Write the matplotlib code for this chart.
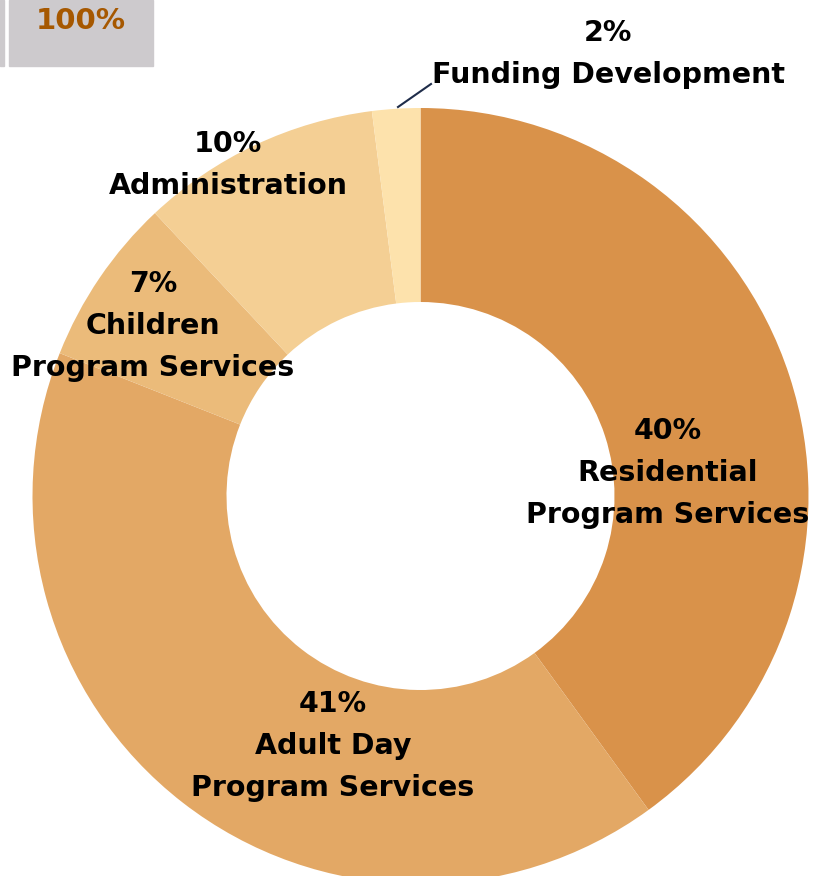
import matplotlib
matplotlib.use("Agg")
import matplotlib.pyplot as plt
from matplotlib.patches import Rectangle

# Données
categories = ["Residential\nProgram Services", "Adult Day\nProgram Services",
              "Children\nProgram Services", "Administration", "Funding Development"]
values = [40, 41, 7, 10, 2]
colors = ["#d9924a", "#e3a865", "#ebbb7a", "#f4cf94", "#fde2ac"]
total_label = "100%"

W, H = 813, 876
fig = plt.figure(figsize=(W / 100, H / 100), dpi=100)
ax = fig.add_axes([0, 0, 1, 1])

# anneau
cx, cy, r = 420.5, H - 496, 388
ax.pie(values, colors=colors, startangle=90, counterclock=False,
       center=(cx, cy), radius=r, wedgeprops=dict(width=r * 0.5, linewidth=0),
       frame=True)
ax.set_xlim(0, W)
ax.set_ylim(0, H)
ax.set_aspect("auto")
ax.axis("off")

# positions des étiquettes (pixels, y depuis le haut)
label_pos = [(668, 473), (333, 746), (153, 326), (228, 165), (608, 54)]
for cat, v, (x, y) in zip(categories, values, label_pos):
    ax.text(x, H - y, f"{v}%\n{cat}", ha="center", va="center", fontsize=20.5,
            fontweight="bold", color="black", linespacing=1.65, family="DejaVu Sans")

# trait de rappel pour Funding Development
ax.plot([398, 431], [H - 107, H - 84], color="#1f2d4a", lw=1.5)

# encadré 100% en haut à gauche
ax.add_patch(Rectangle((0, H - 66), 4, 66, color="#cdcacd"))
ax.add_patch(Rectangle((9, H - 66), 144, 66, color="#cdcacd"))
ax.text(81, H - 21, total_label, ha="center", va="center", fontsize=21,
        fontweight="bold", color="#a65800")

fig.savefig("out.png", dpi=100)
